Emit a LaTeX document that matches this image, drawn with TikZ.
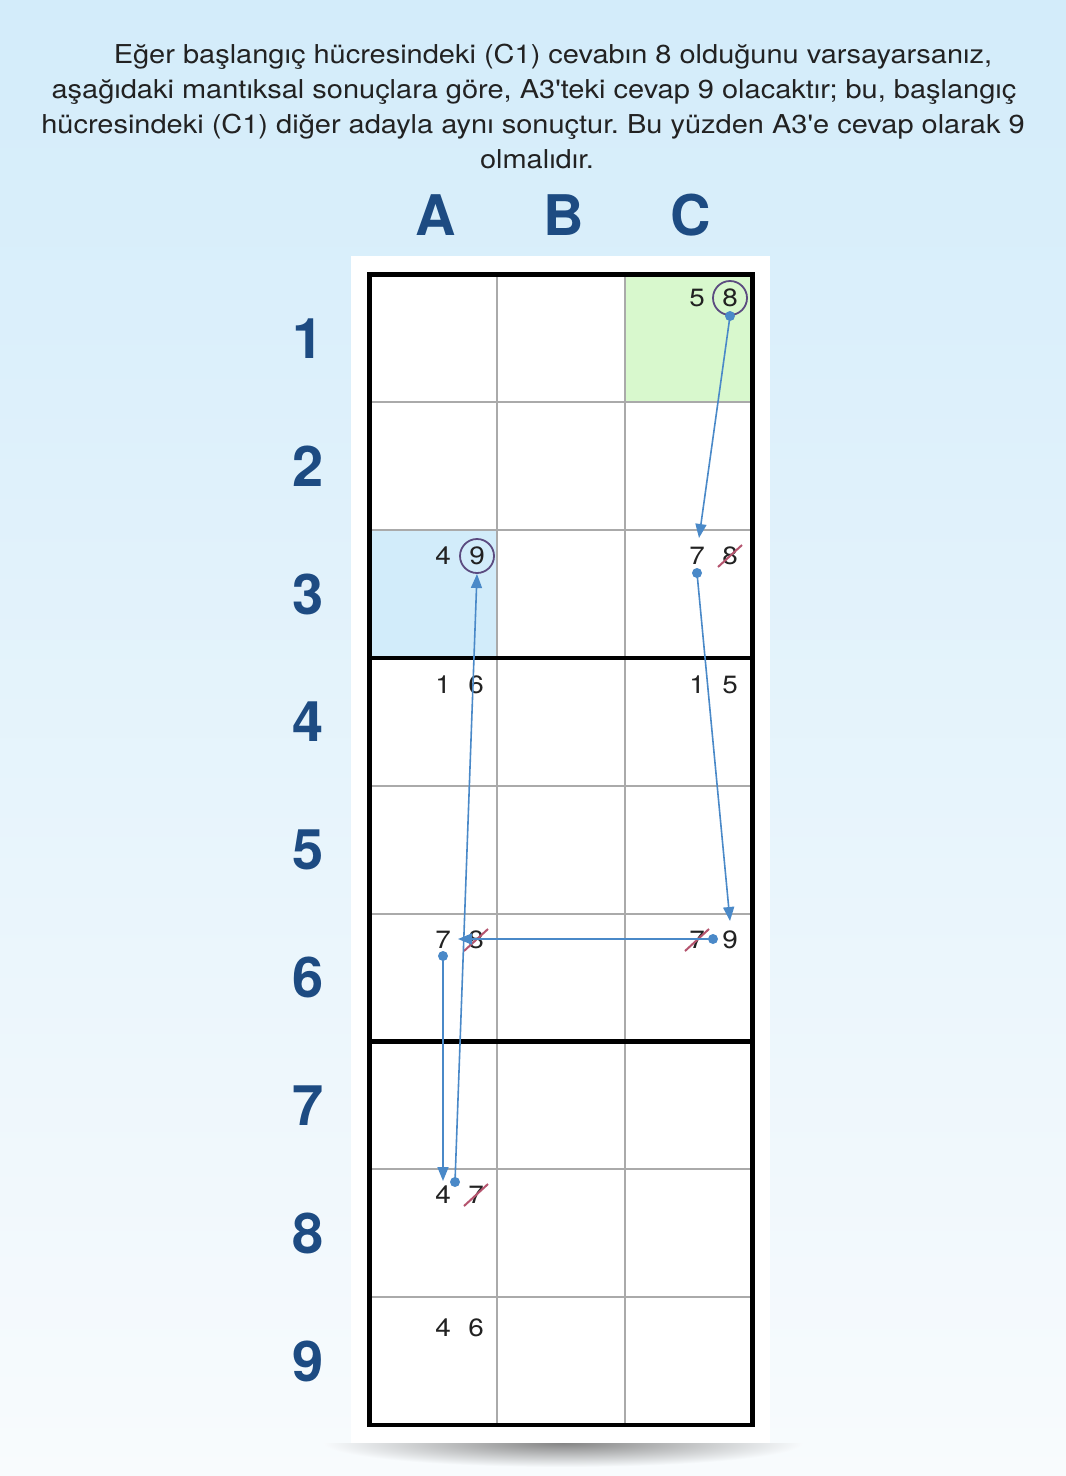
\documentclass[tikz,border=0pt]{standalone}
\usepackage{fontspec}
\newfontfamily\hv{TeX Gyre Heros}
\newfontfamily\hvw{TeX Gyre Heros}[FakeStretch=1.115]
\usetikzlibrary{arrows.meta}
\definecolor{bgtop}{HTML}{D3ECFA}
\definecolor{bgmid}{HTML}{E6F4FC}
\definecolor{bgbot}{HTML}{F8FBFD}
\definecolor{greencell}{HTML}{D8F8CD}
\definecolor{bluecell}{HTML}{D2ECFA}
\definecolor{gridgray}{HTML}{AAAAAA}
\definecolor{labelblue}{HTML}{1D4B82}
\definecolor{arrowblue}{HTML}{4A89C8}
\definecolor{ringpurple}{HTML}{5B4B80}
\definecolor{strikered}{HTML}{B5546E}
\definecolor{txt}{HTML}{222222}
\frenchspacing
\begin{document}
\begin{tikzpicture}[x=1pt,y=-1pt,
  headlbl/.style={font=\hv\bfseries\fontsize{56}{60}\selectfont, text=labelblue, inner sep=0pt},
  introline/.style={font=\hvw\fontsize{26}{30}\selectfont, text=txt, inner sep=0pt, anchor=base},
  cand/.style={font=\hvw\fontsize{25}{30}\selectfont, text=txt, inner sep=0pt},
  gridthin/.style={draw=gridgray, line width=2pt},
  gridthick/.style={draw=black, line width=4.5pt},
  ring/.style={draw=ringpurple, line width=1.8pt},
  strikeline/.style={draw=strikered, line width=2pt},
  link/.style={draw=arrowblue, line width=1.6pt, -{Triangle[length=14pt,width=11pt]}},
  linkdot/.style={fill=arrowblue}
]
\useasboundingbox (0,0) rectangle (1066,1476);
% background
\shade[top color=bgtop, middle color=bgmid, bottom color=bgbot] (0,0) rectangle (1066,1476);
% shadow under panel
\begin{scope}
  \clip (300,1443) rectangle (830,1476);
  \shade[inner color=black!48, outer color=bgbot] (563,1443) ellipse (240 and 24);
\end{scope}
% panel
\fill[white] (351,256) rectangle (770,1443);

% intro text
\node[introline] (t1) at (553,63) {Eğer başlangıç hücresindeki (C1) cevabın 8 olduğunu varsayarsanız,};
\node[introline] (t2) at (534,98) {aşağıdaki mantıksal sonuçlara göre, A3'teki cevap 9 olacaktır; bu, başlangıç};
\node[introline] (t3) at (533,133) {hücresindeki (C1) diğer adayla aynı sonuçtur. Bu yüzden A3'e cevap olarak 9};
\node[introline] (t4) at (537,168) {olmalıdır.};

% column headers
\node[headlbl] (hA) at (436,215) {A};
\node[headlbl] (hB) at (564,215) {B};
\node[headlbl] (hC) at (691,215) {C};
% row labels
\foreach \r/\y in {1/338.4,2/466.2,3/594.1,4/721.9,5/849.8,6/977.6,7/1105.4,8/1233.3,9/1361.1}
  \node[headlbl] (r\r) at (308,\y) {\r};

% highlighted cells
\fill[greencell] (624.8,274.5) rectangle (752.5,402.3);
\fill[bluecell] (369.5,530.2) rectangle (497.2,658.0);

% thin grid
\foreach \x in {497.2,624.8}
  \draw[gridthin] (\x,274.5) -- (\x,1425);
\foreach \y in {402.3,530.2,785.8,913.7,1169.3,1297.2}
  \draw[gridthin] (369.5,\y) -- (752.5,\y);
% thick grid
\foreach \y in {658.0,1041.5}
  \draw[gridthick] (369.5,\y) -- (752.5,\y);
\draw[gridthick] (369.5,274.5) rectangle (752.5,1425);

% candidates
\node[cand] (c1a) at (697,298) {5};
\node[cand] (c1b) at (730,298) {8};
\node[cand] (a3a) at (443,556) {4};
\node[cand] (a3b) at (477,556) {9};
\node[cand] (c3a) at (697,556) {7};
\node[cand] (c3b) at (730,556) {8};
\node[cand] (a4a) at (443,685) {1};
\node[cand] (a4b) at (476,685) {6};
\node[cand] (c4a) at (697,685) {1};
\node[cand] (c4b) at (730,685) {5};
\node[cand] (a6a) at (443,940) {7};
\node[cand] (a6b) at (476,940) {8};
\node[cand] (c6a) at (697,940) {7};
\node[cand] (c6b) at (730,940) {9};
\node[cand] (a8a) at (443,1195) {4};
\node[cand] (a8b) at (476,1195) {7};
\node[cand] (a9a) at (443,1328) {4};
\node[cand] (a9b) at (476,1328) {6};

% rings
\draw[ring] (c1b.center) circle (17);
\draw[ring] (a3b.center) circle (17);

% strikes
\foreach \n in {c3b,a6b,c6a,a8b}
  \draw[strikeline] ([shift={(-12,11)}]\n.center) -- ([shift={(12,-11)}]\n.center);

% arrow end points
\coordinate (s1) at (730,316);
\coordinate (e1) at (699,538);
\coordinate (s2) at (697,573);
\coordinate (e2) at (730,921);
\coordinate (s3) at (713,939);
\coordinate (e3) at (458,939);
\coordinate (s4) at (443,956);
\coordinate (e4) at (443,1181);
\coordinate (s5) at (455,1182);
\coordinate (e5) at (477,574);

\foreach \i in {1,...,5}{
  \draw[link] (s\i) -- (e\i);
  \fill[linkdot] (s\i) circle (5);
}
\end{tikzpicture}
\end{document}
